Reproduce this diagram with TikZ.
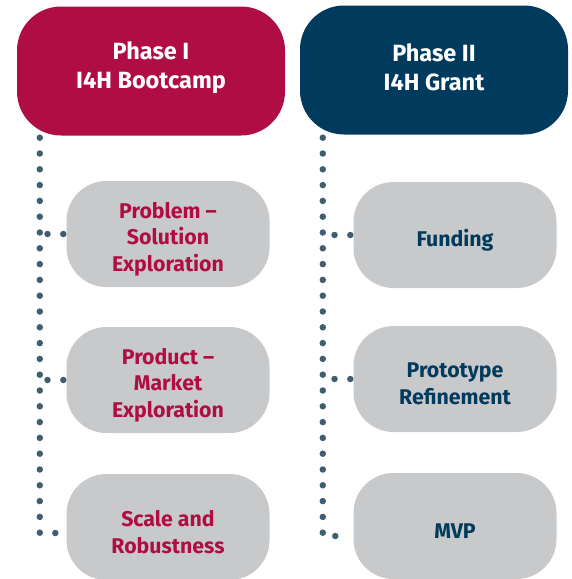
\documentclass[tikz,border=0pt]{standalone}
\usepackage{fontspec}
\setmainfont{Fira Sans}
\definecolor{phasered}{HTML}{B00D45}
\definecolor{phaseblue}{HTML}{003A5C}
\definecolor{stepgray}{HTML}{C8C9CB}
\definecolor{dotgray}{HTML}{3F5E70}
\tikzset{
  phasebox/.style={rounded corners=44pt, minimum width=268pt, minimum height=129pt},
  phasetext/.style={align=center, text=white, yshift=3pt, font=\fontsize{23.5}{29}\selectfont\bfseries},
  stagebox/.style={fill=stepgray, rounded corners=40pt, minimum width=203pt, minimum height=106pt},
  stagetext/.style={align=center, yshift=-5pt, font=\fontsize{21.3}{26.5}\selectfont\bfseries},
  dotline/.style={draw=dotgray, line width=6.5pt, line cap=round, dash pattern=on 0pt off 15.8pt},
}
\begin{document}
\begin{tikzpicture}[x=1pt, y=-1pt]
  \useasboundingbox (0,0) rectangle (571,579);
  \clip (0,0) rectangle (571,579);
  % phases
  \node[phasebox, fill=phasered, label={[phasetext]center:Phase I\\I4H Bootcamp}] (p1) at (151,71) {};
  \node[phasebox, fill=phaseblue, label={[phasetext]center:Phase II\\I4H Grant}] (p2) at (434,70) {};
  % steps of phase I
  \node[stagebox, label={[stagetext, text=phasered]center:Problem --\\Solution\\Exploration}] (s11) at (168,234) {};
  \node[stagebox, label={[stagetext, text=phasered]center:Product --\\Market\\Exploration}] (s12) at (168,380) {};
  \node[stagebox, label={[stagetext, text=phasered]center:Scale and\\Robustness}] (s13) at (168,527) {};
  % steps of phase II
  \node[stagebox, label={[stagetext, text=phaseblue]center:Funding}] (s21) at (455,235) {};
  \node[stagebox, label={[stagetext, text=phaseblue]center:Prototype\\Refinement}] (s22) at (455,379) {};
  \node[stagebox, label={[stagetext, text=phaseblue]center:MVP}] (s23) at (455,526) {};
  % dotted connectors
  \coordinate (t1) at ([xshift=23pt, yshift=-2pt]p1.south west);
  \coordinate (t2) at ([xshift=23pt, yshift=-3pt]p2.south west);
  \draw[dotline] (t1) |- ([xshift=-3pt, yshift=-6pt]s13.west);
  \draw[dotline] (t2) |- ([xshift=-6pt, yshift=-10pt]s23.west);
  \draw[dotline] ([xshift=-3pt]s11.west) -- (s11.west -| t1);
  \draw[dotline] ([xshift=-3pt]s12.west) -- (s12.west -| t1);
  \draw[dotline] ([xshift=-3pt]s21.west) -- (s21.west -| t2);
  \draw[dotline] ([xshift=-3pt]s22.west) -- (s22.west -| t2);
\end{tikzpicture}
\end{document}
